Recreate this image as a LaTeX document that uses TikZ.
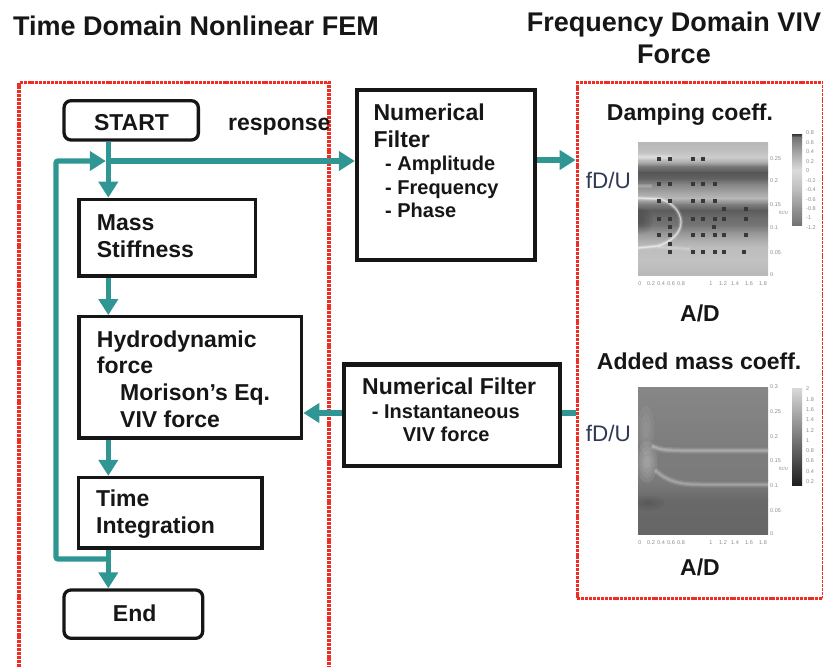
\documentclass[tikz,border=0pt]{standalone}
\usepackage{fontspec}
\setmainfont{Liberation Sans}
\usetikzlibrary{arrows.meta}

\definecolor{flowteal}{RGB}{48,150,148}
\definecolor{panelred}{RGB}{240,45,35}
\definecolor{ink}{RGB}{22,22,22}
\definecolor{axisink}{RGB}{48,58,84}

\begin{document}
\begin{tikzpicture}[x=1pt,y=-1pt,
  panel/.style={draw=panelred, line width=3.4pt, dash pattern=on 3pt off 0.9pt, inner sep=0pt},
  flow/.style={draw=flowteal, line width=5.2pt, -{Triangle[length=16pt,width=19pt]}},
  flowline/.style={draw=flowteal, line width=5.2pt},
  stepbox/.style={draw=ink, line width=3.3pt, fill=white, inner sep=0pt},
  termbox/.style={stepbox, rounded corners=7pt},
  filterbox/.style={draw=ink, line width=4.3pt, fill=white, inner sep=0pt},
  txt/.style={anchor=base west, inner sep=0pt, text=ink, font=\fontsize{23}{27}\selectfont\bfseries},
  subtxt/.style={txt, font=\fontsize{20}{24}\selectfont\bfseries},
  ttl/.style={inner sep=0pt, text=ink, font=\fontsize{27}{32}\selectfont\bfseries},
  axislbl/.style={anchor=base west, inner sep=0pt, text=axisink, font=\fontsize{22.5}{27}\selectfont},
  tick/.style={inner sep=0pt, text=black!45, font=\fontsize{5.5}{6}\selectfont},
  dot/.style={fill=black!78},
  softlight/.style={white, opacity=.12},
  softdark/.style={black, opacity=.06}]

\useasboundingbox (0,0) rectangle (823,667);
\clip (0,0) rectangle (823,667);

% titles
\node[ttl, anchor=base west] (ttlTime) at (13,35) {Time Domain Nonlinear FEM};
\node[ttl, anchor=base] (ttlFreq1) at (674,31.5) {Frequency Domain VIV};
\node[ttl, anchor=base] (ttlFreq2) at (674,63) {Force};

% dotted panels
\node[panel, anchor=north west, minimum width=310pt, minimum height=620pt] (timepanel) at (17.3,80.7) {};
\node[panel, anchor=north west, minimum width=246pt, minimum height=516pt] (freqpanel) at (575.7,80.7) {};

% ---- damping coefficient map: horizontal grey bands (y / darkness)
\foreach \ya/\ca/\yb/\cb in {142/28/150/25, 150/25/157/20, 157/20/162/32, 162/32/166/52,
    166/52/172/66, 172/66/178/62, 178/62/184/48, 184/48/192/36, 192/36/198/28,
    198/28/204/50, 204/50/210/64, 210/64/217/58, 217/58/225/54, 225/54/232/42,
    232/42/240/32, 240/32/247/26, 247/26/260/24, 260/24/275/28}
  \shade[top color=black!\ca, bottom color=black!\cb] (638,\ya) rectangle (768,\yb+0.4);
\begin{scope}
  \clip (638,142) rectangle (768,275);
  % soft dark patch on the left edge
  \foreach \r in {4,7,10,13} \fill[softdark] (640,221) ellipse [x radius=\r, y radius=\r];
  % pale streaks near the left edge
  \foreach \w in {2,4,6} \draw[softlight, line width=\w pt] (638,157) -- (672,157);
  \foreach \w in {2,4} \draw[softlight, line width=\w pt] (638,186) -- (652,186);
  % pale contour line
  \foreach \w/\o in {1.2/.55,3/.2,5/.1}
    \draw[white, opacity=\o, line width=\w pt] (638,198) -- (660,199)
      .. controls (672,202) and (681,212) .. (681,222)
      .. controls (681,234) and (670,242) .. (658,246) -- (638,248);
  \foreach \w in {2,4} \draw[softlight, line width=\w pt] (658,247) -- (690,249);
\end{scope}
\foreach \y/\xs in {159/{659,670,693,703},
                    184/{659,670,693,703,715},
                    201/{659,670,693,703,715},
                    209/{724,746},
                    219/{659,670,693,703,715,724,746},
                    227/{670,714},
                    235/{659,670,693,703,715,724,746},
                    244/{670},
                    252/{670,693,703,715,724,744}}
  \foreach \x in \xs
    \fill[dot] (\x-1.6,\y-2) rectangle (\x+1.6,\y+2);
% colour bar
\foreach \ya/\ca/\yb/\cb in {134/80/137/55, 137/55/150/38, 150/38/170/14, 170/14/190/26,
    190/26/208/42, 208/42/225/55}
  \shade[top color=black!\ca, bottom color=black!\cb] (792,\ya) rectangle (802,\yb+0.4);
\foreach \v/\x in {0/640,0.2/651,0.4/661,0.6/671,0.8/681,1/711,1.2/723,1.4/735,1.6/749,1.8/763}
  \node[tick, anchor=base] (dx\x) at (\x,285) {\v};
\foreach \v/\y in {0.25/159,0.2/181,0.15/205,0.1/228,0.05/253,0/275}
  \node[tick, anchor=west] (dy\y) at (770,\y) {\v};
\node[tick, anchor=west, font=\fontsize{4.5}{5}\selectfont] (dyname) at (779,213) {fD/U};
\foreach \v [count=\i from 0] in {0.8,0.6,0.4,0.2,0,-0.2,-0.4,-0.6,-0.8,-1,-1.2}
  \node[tick, anchor=west] (dc\i) at (806,133+9.45*\i) {\v};

% ---- added mass coefficient map
\foreach \ya/\ca/\yb/\cb in {387/47/430/50, 430/50/448/51, 448/51/480/52, 480/52/490/55,
    490/55/500/59, 500/59/534/60}
  \shade[top color=black!\ca, bottom color=black!\cb] (638,\ya) rectangle (768,\yb+0.4);
\begin{scope}
  \clip (638,387) rectangle (768,534);
  % pale ridges
  \foreach \w/\o in {6/.1,3.5/.16,1.5/.16}
    \draw[white, opacity=\o, line width=\w pt] (652,446) .. controls (662,450) .. (680,450.5) -- (768,450.5);
  \foreach \w/\o in {6/.09,3.5/.14,1.5/.14}
    \draw[white, opacity=\o, line width=\w pt] (655,470) .. controls (668,482) and (680,484.5) .. (700,484.5) -- (768,484.5);
  % bright spot on the left edge
  \foreach \r in {4,7,10,13} \fill[white, opacity=.08] (647,462) ellipse [x radius=\r*0.8, y radius=\r*1.6];
  \foreach \r in {4,8,12} \fill[white, opacity=.05] (646,430) ellipse [x radius=\r*0.7, y radius=\r*2];
  % darker corner low on the left
  \foreach \r in {3,6,9} \fill[black, opacity=.04] (648,503) ellipse [x radius=\r*1.8, y radius=\r*0.8];
\end{scope}
\shade[top color=black!15, bottom color=black!88] (792,388) rectangle (802,485);
\foreach \v/\x in {0/640,0.2/651,0.4/661,0.6/671,0.8/681,1/711,1.2/723,1.4/735,1.6/749,1.8/763}
  \node[tick, anchor=base] (mx\x) at (\x,544) {\v};
\foreach \v/\y in {0.3/387,0.25/412,0.2/437,0.15/461,0.1/486,0.05/511,0/534}
  \node[tick, anchor=west] (my\y) at (770,\y) {\v};
\node[tick, anchor=west, font=\fontsize{4.5}{5}\selectfont] (myname) at (779,469) {fD/U};
\foreach \v [count=\i from 0] in {2,1.8,1.6,1.4,1.2,1,0.8,0.6,0.4,0.2}
  \node[tick, anchor=west] (mc\i) at (806,389+10.3*\i) {\v};

% ---- flow chart boxes
\node[termbox, minimum width=134.3pt, minimum height=39.3pt] (start) at (131.2,120.35) {};
\node[stepbox, minimum width=176.7pt, minimum height=76.7pt] (mass) at (167.35,237.65) {};
\node[stepbox, minimum width=222.7pt, minimum height=121.3pt] (hydro) at (190.35,377.35) {};
\node[stepbox, minimum width=183.3pt, minimum height=70.5pt] (ti) at (170.35,512.75) {};
\node[termbox, minimum width=138.7pt, minimum height=48.3pt] (finish) at (133.35,614.15) {};
\node[filterbox, minimum width=178pt, minimum height=169.7pt] (nfA) at (446,175.15) {};
\node[filterbox, minimum width=216pt, minimum height=101.5pt] (nfB) at (452,415.25) {};

% ---- connectors
\coordinate (spine) at (108.3,161);
\coordinate (spineL) at (105.8,161);
\coordinate (loopTop) at (56,161);
\coordinate (loopBot) at (56,559);
\coordinate (split) at (108.3,559);
\coordinate (dampIn) at (575.7,160);
\coordinate (massOut) at (575.7,413);

\draw[flow] (spine |- start.south) -- (spine |- mass.north);
\draw[flow] (spine |- mass.south) -- (spine |- hydro.north);
\draw[flow] (spine |- hydro.south) -- (spine |- ti.north);
\draw[flow] (spine |- ti.south) -- (spine |- finish.north);
\draw[flow, rounded corners=2pt] (split) -- (loopBot) -- (loopTop) -- (spineL);
\draw[flow] (spine) -- (spine -| nfA.west);
\draw[flow] (dampIn -| nfA.east) -- (dampIn);
\draw[flowline] (massOut) -- (massOut -| nfB.east);
\draw[flow] (massOut -| nfB.west) -- (massOut -| hydro.east);

% ---- texts
\node[txt, anchor=base] (tStart) at (131.5,130.7) {START};
\node[txt] (tResp) at (228,130.5) {response};
\node[txt] (tMass1) at (96.7,230) {Mass};
\node[txt] (tMass2) at (96.7,257.7) {Stiffness};
\node[txt] (tHyd1) at (96.7,347.3) {Hydrodynamic};
\node[txt] (tHyd2) at (96.7,373.3) {force};
\node[txt] (tHyd3) at (120,400.7) {Morison’s Eq.};
\node[txt] (tHyd4) at (120,427.3) {VIV force};
\node[txt] (tTi1) at (96,506.7) {Time};
\node[txt] (tTi2) at (96,533.3) {Integration};
\node[txt, anchor=base] (tEnd) at (134.7,621.7) {End};

\node[txt] (tNfA1) at (373.3,120) {Numerical};
\node[txt] (tNfA2) at (373.3,147.3) {Filter};
\node[subtxt] (tNfA3) at (385,170) {- Amplitude};
\node[subtxt] (tNfA4) at (385,194) {- Frequency};
\node[subtxt] (tNfA5) at (385,217.7) {- Phase};

\node[txt] (tNfB1) at (362,394) {Numerical Filter};
\node[subtxt] (tNfB2) at (371.7,418.3) {- Instantaneous};
\node[subtxt] (tNfB3) at (402.7,441.7) {VIV force};

\node[txt] (tDamp) at (606.7,120) {Damping coeff.};
\node[axislbl] (tDampY) at (585.7,188.3) {fD/U};
\node[txt] (tDampX) at (680,321.7) {A/D};
\node[txt] (tMassC) at (596.7,369.3) {Added mass coeff.};
\node[axislbl] (tMassY) at (585.7,441.7) {fD/U};
\node[txt] (tMassX) at (680,575) {A/D};

\end{tikzpicture}
\end{document}
